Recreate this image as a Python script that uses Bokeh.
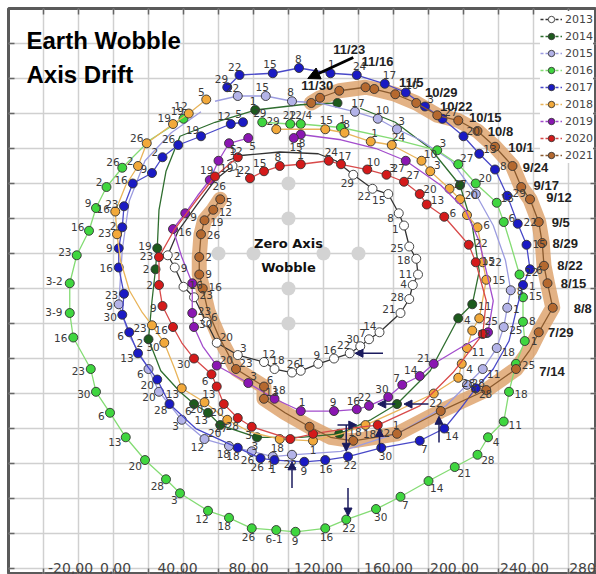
import math
from bokeh.plotting import figure
from bokeh.models import ColumnDataSource, Range1d, FixedTicker, Grid, Legend, LegendItem, Arrow, NormalHead
from bokeh.core.properties import value
from bokeh.embed import file_html
from bokeh.resources import INLINE

# ---------------- data (chart units) ----------------
YEARS = ["2013", "2014", "2015", "2016", "2017", "2018", "2019", "2020", "2021"]

X13 = [68,58,47,37,31,35,40,46,53,59,71,86,92,102,107,117,126,135,141,146,152,164,169,171,174,173,169,166,163,157,148,137,127,117,95,73,65]
Y13 = [50,42,27,13,-1,-8,-19,-25,-39,-51,-58,-62,-66,-68,-67,-63,-60,-57,-53,-49,-45,-34,-26,-18,-12,-3,4,16,23,34,37,45,53,57,58,56,53]
L13 = ["1",None,None,None,"2","9","16","23","6","20","3","12","18","26","1","9","16","22","30","7","14","21","28","4","11","18","25","1","8","15","22","29",None,None,None,None,None]

X14 = [128,107,81,58,38,30,26,25,24,22,20,27,38,46,54,61,82,107,129,147,162,181,197,205,209,205,198,181,161,141]
Y14 = [86,85,82,75,67,47,25,3,-9,-27,-49,-67,-79,-86,-91,-98,-105,-105,-103,-95,-86,-67,-37,-29,-10,16,39,60,75,83]
L14 = ["",None,"1",None,None,None,None,"19","2",None,"2",None,None,"6","13","20","3",None,"",None,"",None,"4","11",None,None,"",None,None,None]

X15 = [50,33,18,9,5,3,9,20,26,39,52,66,79,91,102,130,164,190,202,211,219,223,225,227,224,217,207,193,175,162,151,138,118,102,87,71,58]
Y15 = [81,69,53,30,2,-29,-47,-66,-79,-95,-106,-110,-113,-116,-115,-113,-102,-87,-75,-66,-54,-42,-31,-21,-4,16,34,53,65,71,77,81,86,87,90,90,87]
L15 = [None,None,None,None,None,"9",None,"6","20","3","12","18","26","1","22",None,None,None,"4","11","18","25","1","8",None,None,"",None,None,"3","10","17",None,"8","15","22",None]

X16 = [40,21,5,-4,-10,-14,-21,-25,-25,-23,-13,-10,-2,7,18,30,38,54,66,79,93,104,121,133,150,164,180,195,208,214,223,226,230,235,234,234,232,227,223,219,207,197,185,158,130,107,101,85]
Y16 = [77,65,49,38,26,13,-1,-17,-34,-48,-66,-79,-91,-105,-118,-129,-137,-147,-151,-157,-158,-159,-157,-152,-146,-139,-130,-122,-115,-105,-96,-79,-63,-50,-39,-25,-12,5,18,29,40,51,59,66,72,74,74,75]
L16 = ["19",None,"26","2","9","16","23","3-2","3-9","16","23","30","6","13","20","28","3","12","18","26","6-1","9","16","22","30","7","14","21","28","4","11","18","25","1","8","15","22",None,"6","13","20","27","3",None,"1","12/4","22","29"]

X17 = [74,67,50,37,28,22,11,6,5,3,3,6,5,9,14,25,32,47,71,84,92,109,121,134,153,175,189,198,207,217,226,230,234,238,236,231,225,218,209,200,188,178,167,155,139,124,106,91,72,65]
Y17 = [75,74,67,62,55,46,40,27,15,3,-8,-23,-35,-45,-57,-72,-86,-100,-111,-117,-118,-119,-118,-116,-111,-107,-100,-89,-77,-66,-50,-33,-18,-9,5,17,33,48,57,67,77,84,92,97,102,103,106,103,102,95]
L17 = ["5","12","19","26","2","9","16","23","2","9","16","23","30","6","13","20","28",None,"18","26","1","9","16","22","30","7","14",None,"28",None,None,None,"1","6","15","22","29","8","13","20","27","3","10","17","24","1","8","15","22","29"]

X18 = [53,43,34,19,14,7,1,2,4,9,16,22,29,35,39,52,65,78,95,114,130,144,164,183,197,199,202,205,209,211,213,211,210,208,202,198,192,181,176,159,147,132,121,107,93]
Y18 = [88,80,74,63,50,39,24,11,-4,-21,-33,-41,-51,-66,-77,-85,-95,-102,-106,-107,-103,-98,-89,-80,-71,-63,-54,-44,-37,-26,-15,-5,5,15,22,31,37,47,53,62,64,69,71,71,71]
L18 = ["5","12","19","26","2",None,"16","23",None,None,None,"23","30",None,"13","20","27",None,"18","1",None,"18",None,"","28","4","11","18","25",None,"15","22",None,"6","","20","27","3","10","24","1","8","15",None,"29"]

X19 = [77,66,60,55,48,41,34,39,45,45,46,51,59,77,92,107,126,139,146,157,165,175,183,198,214,217,213,209,201,187,167,150,130,107,103]
Y19 = [66,63,53,42,33,23,14,-2,-17,-34,-42,-53,-64,-74,-83,-90,-90,-89,-87,-82,-75,-70,-63,-54,-45,-27,-10,7,25,39,53,60,65,68,66]
L19 = ["5","12","19","26",None,"9","16",None,"","23","30",None,"20","3","18","1","9","16","22","30","7","14","21",None,"",None,None,None,None,None,"27",None,None,"8","15"]

X20 = [71,65,58,47,35,26,26,28,34,39,46,56,59,63,71,79,101,114,133,151,175,194,211,213,207,203,189,179,175,166,156,145,130,123,107,95,86,78]
Y20 = [55,50,44,30,14,-2,-18,-30,-42,-51,-60,-69,-76,-86,-94,-99,-106,-103,-100,-98,-87,-68,-46,-27,-5,5,21,28,34,41,45,48,51,53,51,50,47,43]
L20 = ["5",None,"19",None,None,"23","2","9","16",None,"30","6","13","20","28","3","","",None,"22",None,None,"",None,"15","22","6","13","20","27","3","10","17","24","1","8","15","22"]

X21 = [61,57,52,50,49,49,51,54,60,70,86,86,98,112,124,137,162,187,213,230,238,243,251,248,246,245,243,238,233,228,218,208,197,185,173,161,149,144,129,118,113]
Y21 = [31,25,19,11,-2,-12,-20,-33,-47,-66,-76,-83,-91,-99,-105,-107,-103,-90,-78,-66,-55,-45,-31,-17,-7,6,18,31,38,50,61,70,76,79,86,91,94,95,93,89,86]
L21 = ["5","12","19","26","2","9","16",None,None,"23","6","13",None,"",None,"18","1","22","28","7/14",None,"7/29","8/8","8/15","8/22","8/29","9/5","9/12","9/17","9/24","10/1","10/8","10/15","10/22","10/29","11/5","","11/16","11/23","","11/30"]

TICK_VALUES = [-20, 0, 40, 80, 120, 160, 200, 240, 280]
TICK_LABELS = ["-20,00", "0,00", "40,00", "80,00", "120,00", "160,00", "200,00", "240,00", "280"]
GRID_X = list(range(-40, 261, 20))
GRID_Y = list(range(-180, 121, 20))

WOBBLE_CENTER = (100, 0)
WOBBLE_STEPS = [20, 40]

# annotation arrows (x0, y0, x1, y1) in chart units
NAVY_ARROWS = [(154,-57,138,-57), (102,-134,102,-119), (134,-134,134,-150),
               (180,-86,166,-86), (161,-86,151,-86), (128,-98,139,-98),
               (133,-98,133,-113), (152,-113,152,-100), (186,-108,186,-93)]
BLACK_ARROW = (137, 112, 111, 100)

# ---------------- styles ----------------
FILL = {"2013": "#ffffff", "2014": "#1d5a1d", "2015": "#b3b3e8", "2016": "#3fd63f", "2017": "#1a1ac4",
        "2018": "#f2a93b", "2019": "#8a16b2", "2020": "#d41a1a", "2021": "#b5692f"}
LINE = {"2013": "#333333", "2014": "#2f6e2f", "2015": "#9c9ce0", "2016": "#84dc74", "2017": "#4848c8",
        "2018": "#e9b45a", "2019": "#a24ccc", "2020": "#d84a4a", "2021": "#8a5a2e"}
SIDE = {"2013": -1, "2014": 1, "2015": 1, "2016": 1, "2017": 1, "2018": 1, "2019": -1, "2020": 1, "2021": -1}
DATE_OFFSETS = [(36,2),(22,0),(30,1),(26,0),(26,0),(23,0),(22,0),(29,-2),(25,-2),(23,1),(26,1),(23,0),
                (27,-3),(19,-9),(25,-11),(16,-12),(12,-26),(10,-41),(6,-18)]
TICK_LABEL_SHIFT = [-8, 2, -6, -5, -5, -5, -9, -9, -21]

SERIES = {"2013": (X13, Y13, L13), "2014": (X14, Y14, L14), "2015": (X15, Y15, L15),
          "2016": (X16, Y16, L16), "2017": (X17, Y17, L17), "2018": (X18, Y18, L18),
          "2019": (X19, Y19, L19), "2020": (X20, Y20, L20), "2021": (X21, Y21, L21)}

PAD = 8
W, H = 596, 574
FW, FH = W - PAD, H - PAD
X_START, X_END = -60, 276
Y_START, Y_END = -183.4, 140
UPP = (X_END - X_START) / FW

p = figure(width=W, height=H, x_range=Range1d(X_START, X_END), y_range=Range1d(Y_START, Y_END),
           output_backend="svg", toolbar_location=None, x_axis_location=None, y_axis_location=None,
           min_border_left=PAD, min_border_top=PAD, min_border_right=0, min_border_bottom=0,
           background_fill_color="white", border_fill_color="white")
p.center = [r for r in p.center if not isinstance(r, Grid)]
p.add_layout(Grid(dimension=0, ticker=FixedTicker(ticks=GRID_X), grid_line_color="#d0d0d0", grid_line_width=1.5))
p.add_layout(Grid(dimension=1, ticker=FixedTicker(ticks=GRID_Y), grid_line_color="#d0d0d0", grid_line_width=1.5))
p.outline_line_color = "#5a5a5a"
p.outline_line_width = 3

# edge tick marks
T = 6 * UPP
nx, ny = len(GRID_X), len(GRID_Y)
p.segment(GRID_X, [Y_END]*nx, GRID_X, [Y_END - T]*nx, line_color="#666", line_width=1.5)
p.segment(GRID_X, [Y_START]*nx, GRID_X, [Y_START + T]*nx, line_color="#666", line_width=1.5)
p.segment([X_START]*ny, GRID_Y, [X_START + T]*ny, GRID_Y, line_color="#666", line_width=1.5)
p.segment([X_END]*ny, GRID_Y, [X_END - T]*ny, GRID_Y, line_color="#666", line_width=1.5)

# zero axis wobble cross
cx0, cy0 = WOBBLE_CENTER
crx = [cx0 + s*d for d in WOBBLE_STEPS for s in (-1, 1)] + [cx0]*4
cry = [cy0]*4 + [cy0 + s*d for d in WOBBLE_STEPS for s in (-1, 1)]
p.scatter(crx, cry, size=14, fill_color="#d3d3d3", line_color=None)
p.text(x=[cx0, cx0], y=[cy0, cy0], text=["Zero Axis", "Wobble"], x_offset=[0, 0], y_offset=[-10, 14],
       text_align="center", text_baseline="middle", text_font=value("DejaVu Sans"),
       text_font_style="bold", text_font_size="13px", text_color="#111")

# 2021 highlight band
p.line(X21, Y21, line_width=15, line_color="#dc9f66", line_alpha=0.8, line_cap="round", line_join="round")

# series lines & markers
small = dict(x=[], y=[], t=[], dx=[], dy=[])
dates = dict(x=[], y=[], t=[], dx=[], dy=[])
for yr in YEARS:
    xs, ys, ls = SERIES[yr]
    p.line(xs, ys, line_color=LINE[yr], line_width=1.3)
    mx = [x for x, l in zip(xs, ls) if l is not None]
    my = [y for y, l in zip(ys, ls) if l is not None]
    p.scatter(mx, my, size=9, fill_color=FILL[yr], line_color="#333", line_width=0.9)
    cx = sum(xs) / len(xs)
    cy = sum(ys) / len(ys)
    k = 0
    for x, y, l in zip(xs, ys, ls):
        if not l:
            continue
        if "/" in l and yr == "2021":
            dates["x"].append(x); dates["y"].append(y); dates["t"].append(l)
            dates["dx"].append(DATE_OFFSETS[k][0]); dates["dy"].append(DATE_OFFSETS[k][1])
            k += 1
            continue
        vx, vy = (x - cx), -(y - cy)
        n = math.hypot(vx, vy) or 1.0
        ux, uy = vx / n, vy / n
        s = SIDE[yr]
        small["x"].append(x); small["y"].append(y); small["t"].append(l)
        small["dx"].append(s * ux * (6 + 3.3 * len(l)))
        small["dy"].append(s * uy * 9)

p.text(x="x", y="y", text="t", x_offset="dx", y_offset="dy", source=ColumnDataSource(small),
       text_align="center", text_baseline="middle", text_font=value("DejaVu Sans"),
       text_font_size="10.5px", text_color="#3a3a3a")
p.text(x="x", y="y", text="t", x_offset="dx", y_offset="dy", source=ColumnDataSource(dates),
       text_align="center", text_baseline="middle", text_font=value("Liberation Sans"),
       text_font_style="bold", text_font_size="13px", text_color="#222")

# arrows
for (x0, y0, x1, y1) in NAVY_ARROWS:
    p.add_layout(Arrow(x_start=x0, y_start=y0, x_end=x1, y_end=y1, line_color="#1b1b5e", line_width=1.5,
                       end=NormalHead(size=8, fill_color="#1b1b5e", line_color="#1b1b5e")))
bx0, by0, bx1, by1 = BLACK_ARROW
p.add_layout(Arrow(x_start=bx0, y_start=by0, x_end=bx1, y_end=by1, line_color="black", line_width=3,
                   end=NormalHead(size=12, fill_color="black", line_color="black")))

# x tick labels inside frame
p.text(x=TICK_VALUES, y=[Y_START]*len(TICK_VALUES), text=TICK_LABELS, x_offset=TICK_LABEL_SHIFT, y_offset=-2,
       text_align="center", text_baseline="bottom", text_font=value("DejaVu Sans"),
       text_font_size="14px", text_color="#444")

# title (centred lines)
p.text(x=[X_START + 18*UPP]*2, y=[Y_END - 32*UPP, Y_END - 66*UPP], text=["Earth Wobble", "Axis Drift"],
       text_align="left", text_baseline="middle", text_font=value("Liberation Sans"),
       text_font_style="bold", text_font_size="24px", text_color="black")

# legend (proxy renderers hold a single point outside the visible range)
items = []
for yr in YEARS:
    lr = p.line([X_START - 50, X_START - 40], [Y_START - 50, Y_START - 50], line_color=LINE[yr],
                line_width=1.5, line_dash="3 2")
    sr = p.scatter([X_START - 50], [Y_START - 50], size=9, fill_color=FILL[yr], line_color="#333", line_width=0.9)
    items.append(LegendItem(label=yr, renderers=[lr, sr]))
legend = Legend(items=items, location="top_right", glyph_width=22, glyph_height=16, label_height=16,
                spacing=1, padding=2, margin=3, label_standoff=3, background_fill_color="white",
                background_fill_alpha=1.0, border_line_color=None, label_text_font="DejaVu Sans",
                label_text_font_size="11px", label_text_color="#444")
p.add_layout(legend)

open("out.html", "w").write(file_html(p, INLINE))
